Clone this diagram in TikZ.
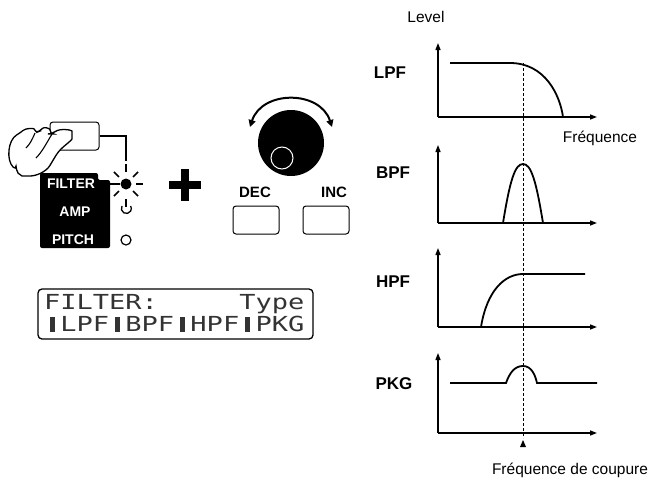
\documentclass[tikz,border=0pt]{standalone}
\usepackage{fontspec}
\setmainfont{Liberation Sans}
\newfontfamily\lcdfont{DejaVu Sans Mono}
\usetikzlibrary{arrows.meta}
\newcommand{\lcdbar}{\makebox[0.602em]{\rule{0.18em}{0.72em}}}
\begin{document}
\begin{tikzpicture}[x=1pt,y=-1pt,
  ax/.style={line width=1.3pt,-{Triangle[length=7pt,width=5pt]}},
  crv/.style={line width=1.8pt},
  lab/.style={font=\bfseries\fontsize{17}{17}\selectfont},
  txt/.style={font=\fontsize{15.5}{15.5}\selectfont},
  panel/.style={font=\bfseries\fontsize{14}{14}\selectfont,text=white},
  btn/.style={draw,line width=1pt,rounded corners=3pt}]
\useasboundingbox (0,0) rectangle (670,485);
% ---- graphs
\foreach \t/\b in {43/117,145/223,248/327,353/433}{
  \draw[ax] (438,\b) -- (438,\t);
  \draw[ax] (438,\b) -- (597,\b);
}
\draw[crv] (450,63) -- (510,63) .. controls (545,63) and (560,95) .. (563,117);
\draw[crv] (503,223) .. controls (510,180) and (515,164) .. (523,164) .. controls (531,164) and (536,180) .. (543,223);
\draw[crv] (481,327) .. controls (487,290) and (505,274) .. (523,274) -- (585,274);
\draw[crv] (450,383) -- (506,383) .. controls (510,372) and (515,366) .. (523,366) .. controls (531,366) and (535,374) .. (537,383) -- (597,383);
\draw[dashed,dash pattern=on 3pt off 2pt,line width=0.7pt] (523,63) -- (523,438);
\fill (523,440) -- (520,447) -- (526,447) -- cycle;
\node[lab] (lpf) at (390,73) {LPF};
\node[lab] (bpf) at (393,173) {BPF};
\node[lab] (hpf) at (393,282) {HPF};
\node[lab] (pkg) at (394,384) {PKG};
\node[txt] (lev) at (426,17) {Level};
\node[txt] (fr) at (600,138) {Fréquence};
\node[txt] (frc) at (570,470) {Fréquence de coupure};
% ---- panel
\fill[rounded corners=2pt] (40,173) -- (98,173) -- (98,180) -- (110,180) -- (110,248) -- (40,248) -- cycle;
\node[panel] (filt) at (71,184) {FILTER};
\node[panel] (amp) at (75,212) {AMP};
\node[panel] (pitch) at (73,240) {PITCH};
\draw[line width=1.2pt] (100,184) -- (120,184);
\fill (126,184) circle (5.5);
\foreach \a in {45,135,225,315,0}{\draw[line width=1.7pt] (126,184) ++(\a:10) -- ++(\a:7);}
\draw[line width=1.3pt] (126,199) -- (126,207);
\draw[line width=1.3pt] (122,206) arc (210:-30:5);
\draw[line width=1.2pt] (126,240) circle (5);
\node[btn,minimum width=49pt,minimum height=28pt] (b1) at (74.5,136) {};
\draw[line width=1.2pt] (b1.east) -- (126,136) -- (126,161);
\draw[line width=1.3pt] (126,164) -- (126,172);
% hand
\filldraw[fill=white,line width=1.3pt,rounded corners=4pt]
 (16,170) .. controls (6,160) and (8,140) .. (20,133)
 .. controls (26,128) and (34,128) .. (35,133)
 -- (40,131) .. controls (44,127) and (50,128) .. (50,134)
 -- (52,134) .. controls (60,128) and (72,130) .. (72,135)
 .. controls (72,140) and (64,146) .. (58,152)
 -- (52,162) .. controls (46,172) and (36,176) .. (26,176)
 .. controls (22,176) and (18,173) .. (16,170) -- cycle;
\draw[line width=1.1pt] (35,133) .. controls (32,140) and (30,144) .. (26,148);
\draw[line width=1.1pt] (52,134) .. controls (46,144) and (42,152) .. (36,158);
% plus
\fill (181,169) rectangle (189,201);
\fill (169,181) rectangle (201,189);
% knob
\fill (291,143) circle (33);
\draw[white,line width=1pt] (282,158) circle (11);
\draw[line width=2pt,{Triangle[length=7pt,width=7pt]}-{Triangle[length=7pt,width=7pt]}] (250,127) .. controls (262,90) and (320,90) .. (332,127);
\node[lab,font=\bfseries\fontsize{15}{15}\selectfont] (dec) at (255,192) {DEC};
\node[lab,font=\bfseries\fontsize{15}{15}\selectfont] (inc) at (334,192) {INC};
\node[btn,minimum width=46pt,minimum height=28pt] (bd) at (256,220) {};
\node[btn,minimum width=46pt,minimum height=28pt] (bi) at (326,220) {};
% LCD
\draw[line width=1.3pt,rounded corners=4pt] (38,289) rectangle (313,339);
\node[anchor=west,inner sep=0,text=black!80] (l1) at (44,304) {\lcdfont\fontsize{18}{18}\selectfont\scalebox{1.5}[1.15]{FILTER:~~~~~Type}};
\node[anchor=west,inner sep=0,text=black!80] (l2) at (44,324) {\lcdfont\fontsize{18}{18}\selectfont\scalebox{1.5}[1.15]{\lcdbar LPF\lcdbar BPF\lcdbar HPF\lcdbar PKG}};
\end{tikzpicture}
\end{document}
